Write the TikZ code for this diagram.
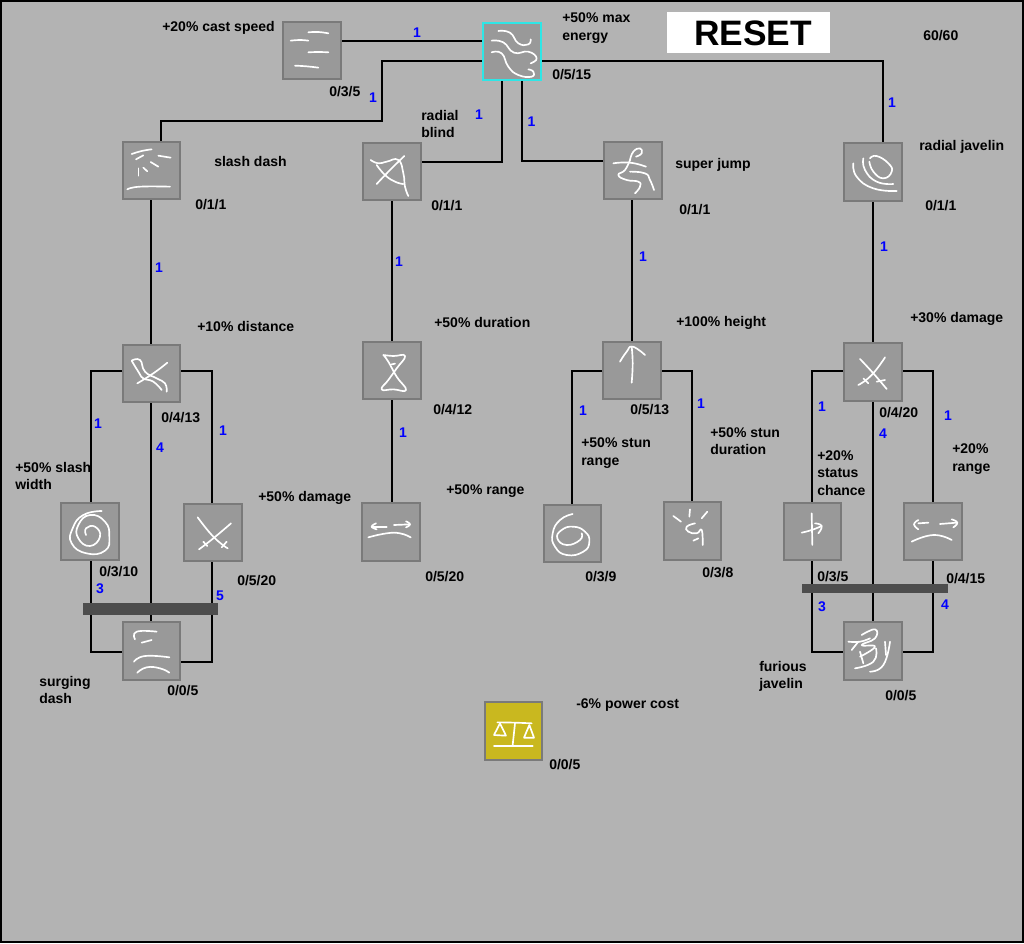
\documentclass[tikz,border=0pt]{standalone}
\usepackage{fontspec}
\setmainfont{Liberation Sans}
\usetikzlibrary{backgrounds}
\definecolor{pagegray}{HTML}{B3B3B3}
\definecolor{tilefill}{HTML}{999999}
\definecolor{tileedge}{HTML}{7A7A7A}
\definecolor{barfill}{HTML}{4D4D4D}
\definecolor{activeedge}{HTML}{2EE6E6}
\definecolor{goldfill}{HTML}{C9B81F}
\tikzset{
  tile/.style={draw=tileedge,fill=tilefill,line width=1.5pt,minimum size=43pt,inner sep=0pt,outer sep=0pt},
  lockbar/.style={fill=barfill,draw=none,inner sep=0pt,outer sep=0pt},
  link/.style={line width=1.5pt,black,line join=miter},
  lbl/.style={anchor=west,inner sep=0pt,align=left,text=black,yshift=-0.75pt,font=\fontsize{10.5pt}{12.9pt}\bfseries\selectfont},
  cost/.style={inner sep=0pt,text=blue,yshift=-0.75pt,font=\fontsize{10.5pt}{12.9pt}\bfseries\selectfont},
  glyphline/.style={white,line width=1.25pt,line cap=round,line join=round}
}
% one hand-drawn stroke of a rune, through the listed points
\newcommand{\rune}[1]{\draw[glyphline] plot[smooth,tension=.85] coordinates {#1};}
\begin{document}
\begin{tikzpicture}[x=0.75pt,y=-0.75pt]
\useasboundingbox (0,0) rectangle (1024,943);

% skill tiles
\node[tile] (cast) at (312,50.5) {};
\node[tile,draw=activeedge] (energy) at (512,51.5) {};
\node[tile] (slash) at (151.5,170.5) {};
\node[tile] (blind) at (392,171.5) {};
\node[tile] (jump) at (633,170.5) {};
\node[tile] (javelin) at (873,172) {};
\node[tile] (dist) at (151.5,373.5) {};
\node[tile] (dur) at (392,370.5) {};
\node[tile] (height) at (632,370.5) {};
\node[tile] (dmg) at (873,372) {};
\node[tile] (width) at (90,531.5) {};
\node[tile] (sworddmg) at (213,532.5) {};
\node[tile] (blindrange) at (391,532) {};
\node[tile] (stunrange) at (572.5,533.5) {};
\node[tile] (stundur) at (692.5,531) {};
\node[tile] (status) at (812.5,531.5) {};
\node[tile] (jrange) at (933,531.5) {};
\node[tile] (surging) at (151.5,651) {};
\node[tile] (furious) at (873,651) {};
\node[tile,fill=goldfill] (power) at (513.5,731) {};

% lock bars over the branches
\node[lockbar,minimum width=101.25pt,minimum height=9pt] (barleft) at (150.5,609) {};
\node[lockbar,minimum width=109.5pt,minimum height=6.75pt] (barright) at (875,588.5) {};

% reset button
\node[fill=white,minimum width=122.25pt,minimum height=30.75pt,inner sep=0pt] (reset) at (748.5,32.5) {};
\node[inner sep=0pt,font=\fontsize{26.5pt}{30pt}\bfseries\selectfont] (resettext) at (753,33) {RESET};

\begin{pgfonlayer}{background}
  \fill[pagegray] (0,0) rectangle (1024,943);
  \draw[black,line width=1.5pt] (1,1) rectangle (1023,942);

  % connectors out of the root tile
  \coordinate (slashbend) at (382,121);
  \coordinate (blindbend) at (502,162);
  \coordinate (jumpbend) at (522,161);
  \draw[link] ([shift={(0,-9.5)}]cast.east) -- ([shift={(0,-10.5)}]energy.west);
  \draw[link] ([shift={(0,9.5)}]energy.west) -| (slashbend) -| ([shift={(9.5,0)}]slash.north);
  \draw[link] ([shift={(-10,0)}]energy.south) |- (blind.east |- blindbend);
  \draw[link] ([shift={(10,0)}]energy.south) |- (jump.west |- jumpbend);
  \draw[link] ([shift={(0,9.5)}]energy.east) -| ([shift={(10,0)}]javelin.north);

  % the four trunks
  \draw[link] ([shift={(-0.5,0)}]slash.south) -- ([shift={(-0.5,0)}]dist.north);
  \draw[link] (blind.south) -- (dur.north);
  \draw[link] (dur.south) -- (blindrange.north -| dur.south);
  \draw[link] (jump.south -| height.north) -- (height.north);
  \draw[link] ([shift={(-0.5,0)}]javelin.south) -- ([shift={(-0.5,0)}]dmg.north);

  % left cluster
  \draw[link] ([shift={(0,-2.5)}]dist.west) -| (width.north -| 91,0);
  \draw[link] ([shift={(0,-2.5)}]dist.east) -| (sworddmg.north -| 212,0);
  \draw[link] ([shift={(-0.5,0)}]dist.south) -- ([shift={(-0.5,0)}]surging.north);
  \draw[link] (width.south -| 91,0) |- ([shift={(0,1)}]surging.west);
  \draw[link] (sworddmg.south -| 212,0) |- ([shift={(0,11)}]surging.east);

  % middle cluster
  \draw[link] ([shift={(0,0.5)}]height.west) -| ([shift={(-0.5,0)}]stunrange.north);
  \draw[link] ([shift={(0,0.5)}]height.east) -| ([shift={(-0.5,0)}]stundur.north);

  % right cluster
  \draw[link] ([shift={(0,-1)}]dmg.west) -| ([shift={(-0.5,0)}]status.north);
  \draw[link] ([shift={(0,-1)}]dmg.east) -| (jrange.north);
  \draw[link] ([shift={(-0.5,0)}]dmg.south) -- ([shift={(-0.5,0)}]furious.north);
  \draw[link] ([shift={(-0.5,0)}]status.south) |- ([shift={(0,1)}]furious.west);
  \draw[link] (jrange.south) |- ([shift={(0,1)}]furious.east);
\end{pgfonlayer}

% runes on the tiles, traced on a fine local grid
\begin{scope}[shift={(270,10)},x=0.25pt,y=-0.25pt]
  % cast speed
  \rune{(115,67) (145,66) (175,70)}
  \rune{(62,92) (90,90) (115,92)}
  \rune{(115,127) (145,126) (175,127)}
  \rune{(75,167) (110,169) (145,173)}
  % max energy
  \rune{(685,63) (720,68) (745,100) (775,103) (782,88)}
  \rune{(665,92) (700,97) (732,128) (775,125) (800,145) (782,160)}
  \rune{(665,127) (695,130) (715,170) (745,195) (785,200) (790,185) (775,178)}
  % radial blind
  \rune{(302,450) (325,460) (350,455) (385,450) (400,490) (405,530) (415,558)}
  \rune{(320,522) (360,480) (403,438)}
  \rune{(320,465) (345,495) (375,515) (400,522)}
\end{scope}
\begin{scope}[shift={(110,130)},x=0.25pt,y=-0.25pt]
  % slash dash
  \rune{(65,72) (95,63) (125,58)}
  \rune{(78,88) (100,76)}
  \rune{(145,77) (182,83)}
  \rune{(122,96) (145,110)}
  \rune{(100,113) (112,124)}
  \rune{(85,115) (85,137)}
  \rune{(52,178) (90,170) (180,170)}
\end{scope}
\begin{scope}[shift={(530,130)},x=0.25pt,y=-0.25pt]
  % super jump
  \rune{(300,90) (310,65) (330,55) (335,70) (318,80)}
  \rune{(300,90) (285,120) (265,135) (290,150) (325,155) (330,170) (315,190)}
  \rune{(250,100) (300,98) (348,110)}
  \rune{(300,125) (345,130) (360,150) (372,180)}
  % radial javelin
  \rune{(1020,85) (1040,78) (1075,100) (1085,125) (1060,145) (1030,125) (1018,95)}
  \rune{(1000,85) (1005,120) (1040,155) (1090,162)}
  \rune{(970,100) (980,140) (1030,175) (1100,183)}
\end{scope}
\begin{scope}[shift={(50,340)},x=0.25pt,y=-0.25pt]
  % slash distance
  \rune{(245,62) (270,60) (285,95) (320,115) (345,130) (350,155)}
  \rune{(245,62) (265,95) (280,115) (310,125) (335,150)}
  \rune{(262,130) (310,100) (352,68)}
  % slash width
  \rune{(155,513) (100,525) (68,565) (65,610) (110,640) (165,632) (178,590) (165,545) (120,525) (85,555) (85,595) (120,618) (150,590) (135,560) (108,565) (108,585)}
  % crossed blades
  \rune{(443,532) (490,590) (533,625)}
  \rune{(447,628) (490,595) (543,550)}
  \rune{(460,605) (472,618)}
  \rune{(515,622) (530,605)}
  % surging dash
  \rune{(255,898) (260,875) (320,875)}
  \rune{(275,908) (305,900)}
  \rune{(252,965) (285,948) (358,952)}
  \rune{(262,998) (290,982) (330,985) (358,998)}
\end{scope}
\begin{scope}[shift={(350,330)},x=0.25pt,y=-0.25pt]
  % duration
  \rune{(100,75) (130,78) (165,78) (140,115) (115,150) (95,178) (130,178) (168,180) (140,140) (115,95) (100,75)}
  \rune{(125,103) (135,101)}
  % blind range
  \rune{(65,590) (110,590)}
  \rune{(78,580) (65,590) (80,598)}
  \rune{(132,585) (180,583)}
  \rune{(168,574) (180,583) (168,592)}
  \rune{(55,622) (110,610) (150,610) (182,622)}
  % jump height
  \rune{(845,158) (848,100) (845,50)}
  \rune{(810,95) (830,65) (848,50) (885,75)}
  % stun range
  \rune{(668,552) (630,570) (608,610) (615,650) (650,675) (700,665) (718,635) (705,605) (670,590) (635,600) (622,625) (650,645) (690,630) (695,610)}
  % stun duration
  \rune{(970,558) (993,575)}
  \rune{(1020,538) (1018,560)}
  \rune{(1072,545) (1055,565)}
  \rune{(1035,580) (1010,590) (1015,605) (1040,610) (1055,600) (1058,645)}
  \rune{(1030,632) (1045,625)}
\end{scope}
\begin{scope}[shift={(770,340)},x=0.25pt,y=-0.25pt]
  % javelin damage
  \rune{(270,57) (310,100) (350,147)}
  \rune{(265,135) (305,105) (345,52)}
  \rune{(280,115) (295,130)}
  \rune{(320,125) (345,120)}
  % status chance
  \rune{(125,520) (127,615)}
  \rune{(95,578) (125,570) (155,558)}
  \rune{(135,550) (155,558) (145,580)}
  % javelin range
  \rune{(445,550) (475,548)}
  \rune{(445,540) (432,553) (445,568)}
  \rune{(510,552) (560,548)}
  \rune{(545,538) (562,548) (550,562)}
  \rune{(425,605) (490,585) (545,600)}
  % furious javelin
  \rune{(275,885) (315,868) (315,895) (275,915) (315,920) (270,950)}
  \rune{(235,905) (270,905) (300,895)}
  \rune{(265,905) (245,930)}
  \rune{(270,935) (280,970)}
  \rune{(255,985) (310,965) (318,925)}
  \rune{(300,995) (340,975) (360,905)}
  \rune{(345,905) (348,945)}
\end{scope}
\begin{scope}[shift={(470,690)},x=0.25pt,y=-0.25pt]
  % balance
  \rune{(82,97) (135,98) (185,100)}
  \rune{(135,100) (128,165)}
  \rune{(72,168) (130,168) (188,168)}
  \draw[glyphline] (90,100) -- (72,135) -- (108,137) -- cycle;
  \draw[glyphline] (178,105) -- (162,143) -- (192,143) -- cycle;
\end{scope}

% skill captions
\node[lbl] (t1) at (162,27) {+20\% cast speed};
\node[lbl] (t2) at (562,27) {+50\% max\\energy};
\node[lbl] (t3) at (923,35) {60/60};
\node[lbl] (t4) at (421,123) {radial\\blind};
\node[lbl] (t5) at (214,160) {slash dash};
\node[lbl] (t6) at (675,164) {super jump};
\node[lbl] (t7) at (919,146) {radial javelin};
\node[lbl] (t8) at (197,325) {+10\% distance};
\node[lbl] (t9) at (434,321) {+50\% duration};
\node[lbl] (t10) at (676,322) {+100\% height};
\node[lbl] (t11) at (910,318) {+30\% damage};
\node[lbl] (t12) at (15,475) {+50\% slash\\width};
\node[lbl] (t13) at (258,497) {+50\% damage};
\node[lbl] (t14) at (39,689) {surging\\dash};
\node[lbl] (t15) at (446,490) {+50\% range};
\node[lbl] (t16) at (581,452) {+50\% stun\\range};
\node[lbl] (t17) at (710,440) {+50\% stun\\duration};
\node[lbl] (t18) at (817,472) {+20\%\\status\\chance};
\node[lbl] (t19) at (952,458) {+20\%\\range};
\node[lbl] (t20) at (759,675) {furious\\javelin};
\node[lbl] (t21) at (576,704) {-6\% power cost};

% rank counters
\node[lbl] (r1) at (329,91) {0/3/5};
\node[lbl] (r2) at (552,74) {0/5/15};
\node[lbl] (r3) at (195,204) {0/1/1};
\node[lbl] (r4) at (431,205) {0/1/1};
\node[lbl] (r5) at (679,209) {0/1/1};
\node[lbl] (r6) at (925,205) {0/1/1};
\node[lbl] (r7) at (161,417) {0/4/13};
\node[lbl] (r8) at (433,409) {0/4/12};
\node[lbl] (r9) at (630,409) {0/5/13};
\node[lbl] (r10) at (879,412) {0/4/20};
\node[lbl] (r11) at (99,571) {0/3/10};
\node[lbl] (r12) at (237,580) {0/5/20};
\node[lbl] (r13) at (425,576) {0/5/20};
\node[lbl] (r14) at (585,576) {0/3/9};
\node[lbl] (r15) at (702,572) {0/3/8};
\node[lbl] (r16) at (817,576) {0/3/5};
\node[lbl] (r17) at (946,578) {0/4/15};
\node[lbl] (r18) at (167,690) {0/0/5};
\node[lbl] (r19) at (885,695) {0/0/5};
\node[lbl] (r20) at (549,764) {0/0/5};

% connector costs
\node[cost] (c1) at (417,32) {1};
\node[cost] (c2) at (373,97) {1};
\node[cost] (c3) at (479,114) {1};
\node[cost] (c4) at (531.5,121) {1};
\node[cost] (c5) at (892,102) {1};
\node[cost] (c6) at (159,267) {1};
\node[cost] (c7) at (399,261) {1};
\node[cost] (c8) at (643,256) {1};
\node[cost] (c9) at (884,246) {1};
\node[cost] (c10) at (98,423) {1};
\node[cost] (c11) at (160,447) {4};
\node[cost] (c12) at (223,430) {1};
\node[cost] (c13) at (100,588) {3};
\node[cost] (c14) at (220,595) {5};
\node[cost] (c15) at (403,432) {1};
\node[cost] (c16) at (583,410) {1};
\node[cost] (c17) at (701,403) {1};
\node[cost] (c18) at (822,406) {1};
\node[cost] (c19) at (883,433) {4};
\node[cost] (c20) at (948,415) {1};
\node[cost] (c21) at (822,606) {3};
\node[cost] (c22) at (945,604) {4};
\end{tikzpicture}
\end{document}
